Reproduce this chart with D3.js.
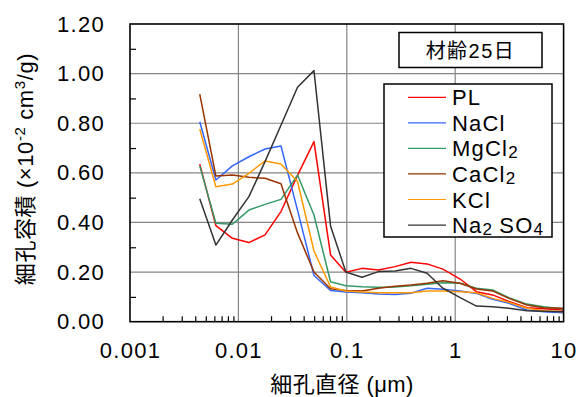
<!DOCTYPE html>
<html>
<head>
<meta charset="utf-8">
<script src="https://cdn.jsdelivr.net/npm/d3@7"></script>
<style>
  html, body { margin: 0; padding: 0; background: #fff; }
  svg { display: block; }
  text { font-family: "Liberation Sans", Arial, "Noto Sans CJK JP", sans-serif; fill: #000; }
</style>
</head>
<body>
<svg id="chart" width="582" height="397"></svg>
<script>
// Pore diameter (µm) at each measurement point
const diameters = [0.0044, 0.0062, 0.0088, 0.0125, 0.0176, 0.0247, 0.0351, 0.0498, 0.0708, 0.098,
                   0.138, 0.196, 0.279, 0.391, 0.55, 0.77, 1.11, 1.57, 2.21, 3.13, 4.59, 6.53, 10];

// Pore volume (×10^-2 cm3/g) per series
const PL     = [0.635, 0.387, 0.336, 0.319, 0.35, 0.444, 0.59, 0.726, 0.269, 0.199,
                0.215, 0.208, 0.222, 0.24, 0.233, 0.212, 0.172, 0.121, 0.108, 0.082, 0.056, 0.052, 0.047];
const NaCl   = [0.806, 0.571, 0.628, 0.665, 0.696, 0.708, 0.45, 0.186, 0.126, 0.12,
                0.117, 0.112, 0.11, 0.115, 0.135, 0.131, 0.124, 0.114, 0.09, 0.074, 0.047, 0.04, 0.036];
const MgCl2  = [0.628, 0.397, 0.393, 0.45, 0.473, 0.493, 0.591, 0.43, 0.161, 0.145,
                0.141, 0.139, 0.14, 0.145, 0.151, 0.157, 0.155, 0.135, 0.128, 0.097, 0.071, 0.06, 0.051];
const CaCl2  = [0.917, 0.587, 0.591, 0.582, 0.578, 0.556, 0.358, 0.2, 0.133, 0.126,
                0.124, 0.135, 0.143, 0.148, 0.155, 0.165, 0.155, 0.132, 0.124, 0.094, 0.067, 0.056, 0.054];
const KCl    = [0.777, 0.544, 0.555, 0.598, 0.648, 0.636, 0.565, 0.285, 0.14, 0.124,
                0.12, 0.117, 0.117, 0.117, 0.124, 0.124, 0.121, 0.117, 0.094, 0.078, 0.054, 0.044, 0.04];
const Na2SO4 = [0.496, 0.309, 0.41, 0.504, 0.645, 0.792, 0.945, 1.012, 0.386, 0.2,
                0.179, 0.202, 0.204, 0.215, 0.195, 0.135, 0.097, 0.063, 0.06, 0.054, 0.044, 0.042, 0.04];

const seriesNames  = ["PL", "NaCl", "MgCl2", "CaCl2", "KCl", "Na2SO4"];
const seriesValues = [PL, NaCl, MgCl2, CaCl2, KCl, Na2SO4];
const seriesColors = ["#ff0000", "#3366ff", "#339966", "#993300", "#ff9900", "#333333"];
// Legend labels: [text, subscript] pieces
const legendParts = [
  [["PL", false]],
  [["NaCl", false]],
  [["MgCl", false], ["2", true]],
  [["CaCl", false], ["2", true]],
  [["KCl", false]],
  [["Na", false], ["2", true], [" SO", false], ["4", true]]
];

const xTicks = [0.001, 0.01, 0.1, 1, 10];
const xTickLabels = ["0.001", "0.01", "0.1", "1", "10"];
const yTicks = [0, 0.2, 0.4, 0.6, 0.8, 1.0, 1.2];
const yMinor = [0.1, 0.3, 0.5, 0.7, 0.9, 1.1];
const titleText = "材齢25日";

const L = 130, R = 563.6, T = 24, B = 321.7;
const svg = d3.select("#chart");

const x = d3.scaleLog().domain([0.001, 10]).range([L, R]);
const y = d3.scaleLinear().domain([0, 1.2]).range([B, T]);

// minor x ticks: 2..9 inside every decade
const xMinor = [];
for (let d = 0.001; d < 10; d *= 10) {
  for (let k = 2; k <= 9; k++) xMinor.push(+(k * d).toPrecision(2));
}

// grid lines
const grid = svg.append("g").attr("stroke", "#858585").attr("stroke-width", 1.2);
grid.selectAll("line.h").data(yTicks.slice(1, -1)).join("line")
  .attr("x1", L).attr("x2", R).attr("y1", d => y(d)).attr("y2", d => y(d));
grid.selectAll("line.v").data(xTicks.slice(1, -1)).join("line")
  .attr("y1", T).attr("y2", B).attr("x1", d => x(d)).attr("x2", d => x(d));

// series lines
const line = d3.line().x((d, i) => x(diameters[i])).y(d => y(d));
svg.append("g").selectAll("path").data(seriesValues).join("path")
  .attr("d", d => line(d))
  .attr("fill", "none")
  .attr("stroke", (d, i) => seriesColors[i])
  .attr("stroke-width", 1.5)
  .attr("stroke-linejoin", "round");

// minor ticks (inward)
svg.append("g").attr("transform", `translate(0,${B})`)
  .call(d3.axisBottom(x).tickValues(xMinor).tickSize(-5.5).tickFormat(""))
  .call(g => g.select(".domain").remove())
  .call(g => g.selectAll("line").attr("stroke", "#000").attr("stroke-width", 1.2));
svg.append("g").attr("transform", `translate(${L},0)`)
  .call(d3.axisLeft(y).tickValues(yMinor).tickSize(-6).tickFormat(""))
  .call(g => g.select(".domain").remove())
  .call(g => g.selectAll("line").attr("stroke", "#000").attr("stroke-width", 1.2));

// frame
svg.append("rect").attr("x", L).attr("y", T).attr("width", R - L).attr("height", B - T)
  .attr("fill", "none").attr("stroke", "#000").attr("stroke-width", 1.6);

// tick labels
const yAx = svg.append("g").attr("transform", `translate(${L},0)`)
  .call(d3.axisLeft(y).tickValues(yTicks).tickSize(0).tickPadding(25).tickFormat(d3.format(".2f")));
yAx.select(".domain").remove();
yAx.selectAll("text").attr("font-size", 22).attr("letter-spacing", 1.3)
  .attr("font-family", "Liberation Sans, Arial, sans-serif").attr("fill", "#000");

const xAx = svg.append("g").attr("transform", `translate(0,${B})`)
  .call(d3.axisBottom(x).tickValues(xTicks).tickSize(0).tickPadding(21)
    .tickFormat((d, i) => xTickLabels[i]));
xAx.select(".domain").remove();
xAx.selectAll("text").attr("font-size", 22).attr("letter-spacing", 1.3)
  .attr("font-family", "Liberation Sans, Arial, sans-serif").attr("fill", "#000");

// axis titles
svg.append("text").attr("x", 342).attr("y", 392).attr("text-anchor", "middle")
  .attr("font-size", 22).attr("letter-spacing", 0.4).text("細孔直径 (μm)");

const yt = svg.append("text").attr("transform", "translate(33,169) rotate(-90)")
  .attr("text-anchor", "middle").attr("font-size", 22).attr("letter-spacing", 0.6);
yt.append("tspan").text("細孔容積 (×10");
yt.append("tspan").attr("font-size", 15).attr("dy", -8).text("-2");
yt.append("tspan").attr("dy", 8).text(" cm");
yt.append("tspan").attr("font-size", 15).attr("dy", -8).text("3");
yt.append("tspan").attr("dy", 8).text("/g)");

// age box
svg.append("rect").attr("x", 399).attr("y", 32.5).attr("width", 143).attr("height", 35)
  .attr("fill", "#fff").attr("stroke", "#000").attr("stroke-width", 1.5);
svg.append("text").attr("x", 470.5).attr("y", 58).attr("text-anchor", "middle")
  .attr("font-size", 20).attr("letter-spacing", 1.5).text(titleText);

// legend
const lg = svg.append("g");
lg.append("rect").attr("x", 384).attr("y", 84).attr("width", 168).attr("height", 153)
  .attr("fill", "#fff").attr("stroke", "#000").attr("stroke-width", 1.5);
const rows = lg.selectAll("g.row").data(seriesNames).join("g")
  .attr("transform", (d, i) => `translate(0,${97.3 + i * 25.55})`);
rows.append("line").attr("x1", 408).attr("x2", 446).attr("y1", 0).attr("y2", 0)
  .attr("stroke", (d, i) => seriesColors[i]).attr("stroke-width", 1.2);
rows.each(function (d, i) {
  const t = d3.select(this).append("text").attr("x", 452).attr("y", 8)
    .attr("font-size", 22).attr("letter-spacing", 1.2);
  let shifted = false;
  legendParts[i].forEach(([s, sub]) => {
    const sp = t.append("tspan").text(s);
    if (sub) { sp.attr("font-size", 17).attr("letter-spacing", 0).attr("dy", 2); shifted = true; }
    else if (shifted) { sp.attr("dy", -2); shifted = false; }
  });
});
</script>
</body>
</html>
